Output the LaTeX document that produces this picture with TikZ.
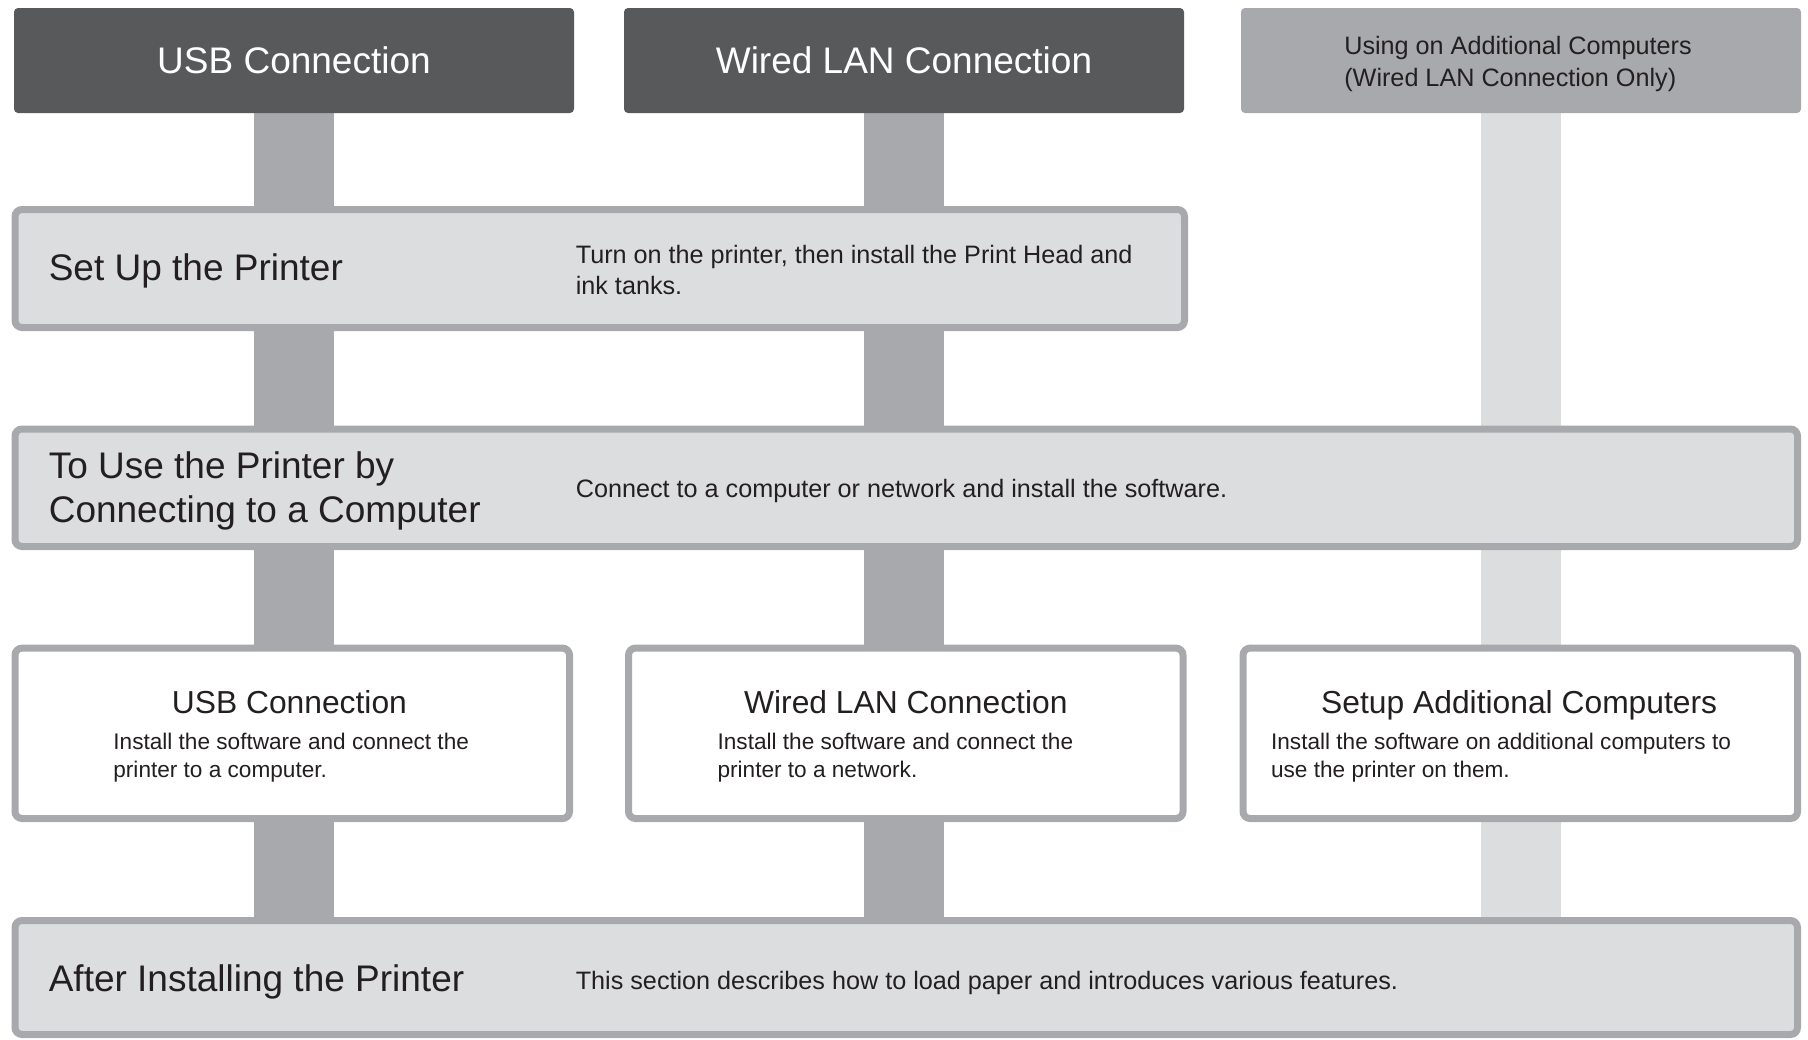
\documentclass[tikz,border=0pt]{standalone}
\usepackage{fontspec}
\setmainfont{Liberation Sans}
\usetikzlibrary{backgrounds}

\definecolor{headdark}{HTML}{58595B}
\definecolor{headlight}{HTML}{A7A9AC}
\definecolor{boxgray}{HTML}{DCDDDE}
\definecolor{inkgray}{HTML}{231F20}

\tikzset{
  header/.style={rectangle, rounded corners=2pt, inner sep=0pt,
    minimum width=280pt, minimum height=52.5pt},
  stepbox/.style={rectangle, rounded corners=3.5pt, inner sep=0pt,
    draw=headlight, line width=3.5pt, fill=boxgray},
  subbox/.style={stepbox, fill=white, minimum width=277.25pt, minimum height=85.2pt},
  bar/.style={line width=40pt, draw=headlight},
  bigtext/.style={inner sep=0pt, text=inkgray, align=left,
    font=\fontsize{18.5}{22}\selectfont},
  desctext/.style={inner sep=0pt, text=inkgray, align=left,
    font=\fontsize{12.6}{15.5}\selectfont},
  titletext/.style={inner sep=0pt, text=inkgray, anchor=base,
    font=\fontsize{15.9}{19}\selectfont},
  smalltext/.style={inner sep=0pt, text=inkgray, align=left,
    font=\fontsize{11.3}{13.85}\selectfont}
}

\begin{document}
\begin{tikzpicture}[x=0.5pt,y=-0.5pt]

\useasboundingbox (0,0) rectangle (1808,1039);

% headers
\node[header, fill=headdark, text=white, font=\fontsize{18.5}{22}\selectfont]
  (usbhead) at (294,60.5) {USB Connection};
\node[header, fill=headdark, text=white, font=\fontsize{18.5}{22}\selectfont]
  (lanhead) at (904,60.5) {Wired LAN Connection};
\node[header, fill=headlight] (addhead) at (1521,60.5) {};
\node[desctext, font=\fontsize{12.6}{16}\selectfont]
  (addheadtext) at (1518,64) {Using on Additional Computers\\(Wired LAN Connection Only)};

% steps
\node[stepbox, minimum width=584.75pt, minimum height=59pt] (setup) at (599.75,268.5) {};
\node[stepbox, minimum width=891.25pt, minimum height=58.75pt] (touse) at (906.25,487.75) {};
\node[subbox] (usbbox) at (292.25,733.3) {};
\node[subbox] (lanbox) at (905.75,733.3) {};
\node[subbox] (addbox) at (1520.3,733.3) {};
\node[stepbox, minimum width=891.25pt, minimum height=57pt] (after) at (906.25,977.5) {};

% bars behind the boxes
\begin{scope}[on background layer]
  \draw[bar] (usbhead.south) -- (usbhead.south |- after.north);
  \draw[bar] (lanhead.south) -- (lanhead.south |- after.north);
  \draw[bar, draw=boxgray] (addhead.south) -- (addhead.south |- after.north);
\end{scope}

% texts
\node[bigtext, anchor=west] (setuptitle) at (48.4,270.5) {Set Up the Printer};
\node[desctext, anchor=west] (setupdesc) at (575.4,270.3)
  {Turn on the printer, then install the Print Head and\\ink tanks.};

\node[bigtext, anchor=west] (tousetitle) at (48.4,490.6)
  {To Use the Printer by\\Connecting to a Computer};
\node[desctext, anchor=west] (tousedesc) at (575.4,491.3)
  {Connect to a computer or network and install the software.};

\node[titletext] (usbtitle) at (289.4,713.6) {USB Connection};
\node[smalltext, anchor=west] (usbdesc) at (113,757.6)
  {Install the software and connect the\\printer to a computer.};
\node[titletext] (lantitle) at (905.8,713.6) {Wired LAN Connection};
\node[smalltext, anchor=west] (landesc) at (717.2,757.6)
  {Install the software and connect the\\printer to a network.};
\node[titletext] (addtitle) at (1519.2,713.6) {Setup Additional Computers};
\node[smalltext, anchor=west] (adddesc) at (1270.7,757.6)
  {Install the software on additional computers to\\use the printer on them.};

\node[bigtext, anchor=west] (aftertitle) at (48.4,981.8) {After Installing the Printer};
\node[desctext, anchor=west] (afterdesc) at (575.4,982.5)
  {This section describes how to load paper and introduces various features.};

\end{tikzpicture}
\end{document}
